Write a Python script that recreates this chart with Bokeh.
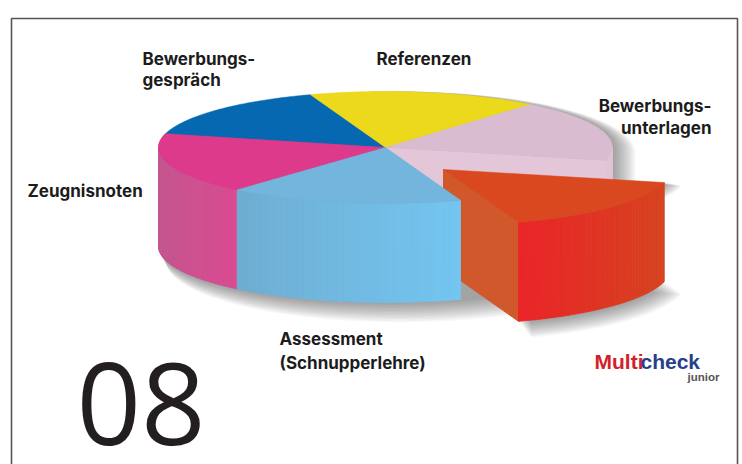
import numpy as np
from bokeh.plotting import figure
from bokeh.embed import file_html
from bokeh.resources import INLINE
from bokeh.core.properties import value

# shares (percent) clockwise from the start angle
slice_names = ["Assessment (Schnupperlehre)", "Zeugnisnoten", "Bewerbungsgespräch",
               "Referenzen", "Bewerbungsunterlagen", "Exploded"]
shares = [16.7, 17.6, 15.7, 16.4, 17.7, 16.0]
top_colors = ["#73b5dc", "#dd3a8b", "#0668b0", "#ecd91b", "#d9bcd0", "#d9481f"]
side_left = ["#6fadd2", "#c4568f", "#0668b0", "#ecd91b", "#e3c6d8", "#ea2428"]
side_right = ["#73c6f1", "#da4a90", "#0668b0", "#ecd91b", "#dfc2d5", "#d6431f"]

START = 70.7
CX, CY, RX, RY, DEPTH = 385, 147, 227, 56, 99
EXPLODE = (58, 22)

W, H = 742, 464
p = figure(width=W, height=H, x_range=(0, 742), y_range=(464, 0),
           toolbar_location=None, output_backend="svg", min_border=0)
p.axis.visible = False
p.grid.visible = False
p.outline_line_color = None
p.background_fill_color = "#ffffff"

def ang(t):
    return np.radians(t)

def pt(t, cx=CX, cy=CY):
    a = ang(t)
    return cx + RX * np.cos(a), cy + RY * np.sin(a)

def top_poly(t0, t1, cx=CX, cy=CY):
    ts = np.linspace(t0, t1, 60)
    x, y = pt(ts, cx, cy)
    return [cx] + list(x), [cy] + list(y)

def hex2rgb(h):
    return np.array([int(h[i:i + 2], 16) for i in (1, 3, 5)], float)

def mix(a, b, f):
    c = hex2rgb(a) * (1 - f) + hex2rgb(b) * f
    return "#%02x%02x%02x" % tuple(int(round(v)) for v in c)

def side(t0, t1, left, right, cx=CX, cy=CY, n=40, depth=DEPTH):
    ts = np.linspace(t0, t1, n + 1)
    xs, ys, cols = [], [], []
    x, y = pt(ts, cx, cy)
    span = x.max() - x.min() or 1
    for i in range(n):
        xs.append([x[i], x[i + 1], x[i + 1], x[i]])
        ys.append([y[i], y[i + 1], y[i + 1] + depth, y[i] + depth])
        f = ((x[i] + x[i + 1]) / 2 - x.min()) / span
        cols.append(mix(left, right, f))
    p.patches(xs, ys, fill_color=cols, line_color=cols, line_width=0.8)

edges = START + np.concatenate([[0], np.cumsum(shares)]) * 3.6
edges[-1] = START + 360
a = [(edges[i], edges[i + 1]) for i in range(6)]

# soft shadows
ts_up = np.linspace(180, 360, 80)
ts_dn = np.linspace(0, 180, 80)
bx, by = pt(ts_up)
fx, fy = pt(ts_dn)
hull_x = np.concatenate([bx, fx])
hull_y = np.concatenate([by, fy + DEPTH])
rt = np.linspace(a[5][0] - 360, a[5][1] - 360, 40)
ex, ey = pt(rt, CX + EXPLODE[0], CY + EXPLODE[1])
r0 = CX + EXPLODE[0], CY + EXPLODE[1]
rhull_x = np.concatenate([[r0[0]], ex, ex[::-1], [r0[0]]])
rhull_y = np.concatenate([[r0[1]], ey, ey[::-1] + DEPTH, [r0[1] + DEPTH]])
for k in range(1, 15):
    grow = 0.6 * k
    for hx, hy in ((hull_x, hull_y), (rhull_x, rhull_y)):
        mx, my = hx.mean(), hy.mean()
        sx = mx + (hx - mx) * (1 + grow / 250) + 1.1 * k
        sy = my + (hy - my) * (1 + grow / 90) + 0.7 * k
        p.patch(sx, sy, fill_color="#303030", fill_alpha=0.04, line_color=None)

# back slices, flat tops
for i in (1, 2, 3, 4):
    x, y = top_poly(*a[i])
    p.patch(x, y, fill_color=top_colors[i], line_color=top_colors[i], line_width=0.5)

# right rim of the rear lilac slice and the wall opened by the exploded slice
side(360, a[4][1], side_left[4], side_right[4], n=8)
wx, wy = pt(a[4][1])
p.patch([CX, wx, wx, CX], [CY, wy, wy + DEPTH, CY + DEPTH],
        fill_color=side_left[4], line_color=None)

# exploded slice
ox, oy = EXPLODE
x, y = top_poly(a[5][0] - 360, a[5][1] - 360, CX + ox, CY + oy)
qx, qy = pt(a[5][1] - 360, CX + ox, CY + oy)
p.patch([CX + ox, qx, qx, CX + ox], [CY + oy, qy, qy + DEPTH, CY + oy + DEPTH],
        fill_color="#d0582a", line_color="#d0582a")
side(a[5][0] - 360, a[5][1] - 360, side_left[5], side_right[5], CX + ox, CY + oy)
p.patch(x, y, fill_color=top_colors[5], line_color=top_colors[5], line_width=0.5)

# pink and blue front walls, then blue top
side(a[1][0], 180, side_left[1], side_right[1], n=30)
side(a[0][0], a[0][1], side_left[0], side_right[0])
x, y = top_poly(*a[1])
p.patch(x, y, fill_color=top_colors[1], line_color=top_colors[1], line_width=0.5)
x, y = top_poly(*a[0])
p.patch(x, y, fill_color=top_colors[0], line_color=top_colors[0], line_width=0.5)

# frame
p.line([11, 11, 737, 737], [464, 18, 18, 464], line_color="#555555", line_width=1.6)

# labels
lab_font = value("Inter")
lab_color = "#1c1c1c"
def label(x, y, t, align="left", size="17px", font=lab_font, color=lab_color, style="bold", base="middle", lh=1.2):
    p.text([x], [y], text=[t], text_align=align, text_baseline=base, text_line_height=lh,
           text_font=font, text_font_size=size, text_color=color, text_font_style=style)

label(142, 58, "Bewerbungs-")
label(142, 79, "gespräch")
label(376, 58, "Referenzen")
label(711, 105, "Bewerbungs-", "right")
label(711, 127, "unterlagen", "right")
label(27, 190, "Zeugnisnoten")
label(279, 338, "Assessment")
label(279, 362, "(Schnupperlehre)")

# number
label(76, 403, "08", size="113px", font=value("Open Sans"), color="#231f20", style="normal", lh=0.7)

# logo
label(594, 361, "Multi", size="21px", font=value("Liberation Sans"), color="#d4202a")
label(640, 361, "check", size="21px", font=value("Liberation Sans"), color="#27408b")
label(687, 376, "junior", size="11.5px", font=value("Liberation Sans"), color="#555555")

open("out.html", "w").write(file_html(p, INLINE))
